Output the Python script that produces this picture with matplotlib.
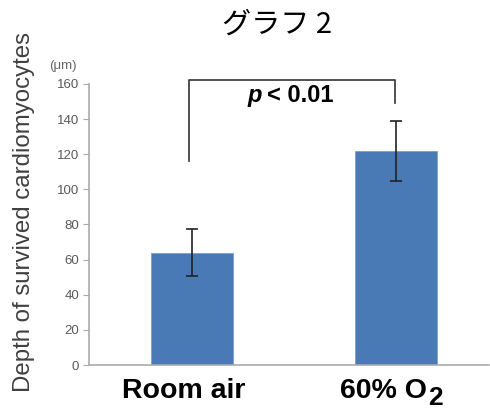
import matplotlib
matplotlib.use("Agg")
import matplotlib.pyplot as plt

group_names = ["Room air", "60% O"]
group_subscripts = ["", "2"]
depth_mean = [64, 122]
depth_err = [13.5, 17]
yticks = [0, 20, 40, 60, 80, 100, 120, 140, 160]

W, H = 490, 411
fig = plt.figure(figsize=(W / 100, H / 100), dpi=100)
ax = fig.add_axes([89 / W, 46 / H, (489 - 89) / W, (365 - 84) / H])

pos = [0, 1]
ax.bar(pos, depth_mean, width=0.4, color="#4a7ab5", edgecolor="#7aa0cc",
       linewidth=0.6, zorder=2)
ax.errorbar(pos, depth_mean, yerr=depth_err, fmt="none", ecolor="#222222",
            elinewidth=1.2, capsize=4, capthick=1.2, zorder=3)

ax.set_xlim(-0.505, 1.456)
ax.set_ylim(0, 160)
ax.set_yticks(yticks)
ax.tick_params(axis="y", labelsize=9.5, labelcolor="#595959", color="#aaaaaa",
               length=4, width=0.8, direction="out", pad=3)
for lab in ax.get_yticklabels():
    lab.set_fontfamily("Liberation Sans")
ax.set_xticks(pos, labels=["", ""])
ax.tick_params(axis="x", length=0)
for s in ("top", "right"):
    ax.spines[s].set_visible(False)
for s in ("left", "bottom"):
    ax.spines[s].set_color("#aaaaaa")
    ax.spines[s].set_linewidth(1.2)

# category labels (bold, with a near full-size subscript)
lab_font = dict(fontsize=20.5, fontweight="bold", fontfamily="Liberation Sans")
main0 = ax.annotate(group_names[0], xy=(pos[0], 0),
                    xycoords=("data", "axes fraction"), xytext=(-8, -33),
                    textcoords="offset pixels", ha="center", va="baseline",
                    **lab_font)
main1 = ax.annotate(group_names[1], xy=(pos[1], 0),
                    xycoords=("data", "axes fraction"), xytext=(-56, -33),
                    textcoords="offset pixels", ha="left", va="baseline",
                    **lab_font)
ax.annotate(group_subscripts[1], xy=(1, 0), xycoords=main1, xytext=(1, -6),
            textcoords="offset pixels", ha="left", va="bottom",
            fontsize=19, fontweight="bold", fontfamily="Liberation Sans")

# significance bracket
ax.plot([-0.015, -0.015, 0.995, 0.995], [116, 162, 162, 149],
        color="#333333", linewidth=1.2, clip_on=False)
p_font = dict(fontsize=17, fontweight="bold", fontfamily="Liberation Sans")
p_sym = ax.text(0.27, 149.8, "p", ha="left", va="baseline",
                style="italic", **p_font)
ax.annotate("< 0.01", xy=(1, 0), xycoords=p_sym, xytext=(6, 0),
            textcoords="offset pixels", ha="left", va="bottom", **p_font)

fig.text(24 / W, 1 - 212 / H, "Depth of survived cardiomyocytes",
         rotation=90, ha="center", va="center", fontsize=17.3,
         color="#404040", fontfamily="Liberation Sans")
fig.text(63 / W, 1 - 66 / H, "(\u03bcm)", ha="center", va="center",
         fontsize=9.5, color="#666666", fontfamily="Liberation Sans")
fig.text(277 / W, 1 - 25 / H, "グラフ 2", ha="center", va="center",
         fontsize=21, fontfamily=["Noto Sans CJK JP", "DejaVu Sans"])

fig.savefig("out.png", dpi=100)
